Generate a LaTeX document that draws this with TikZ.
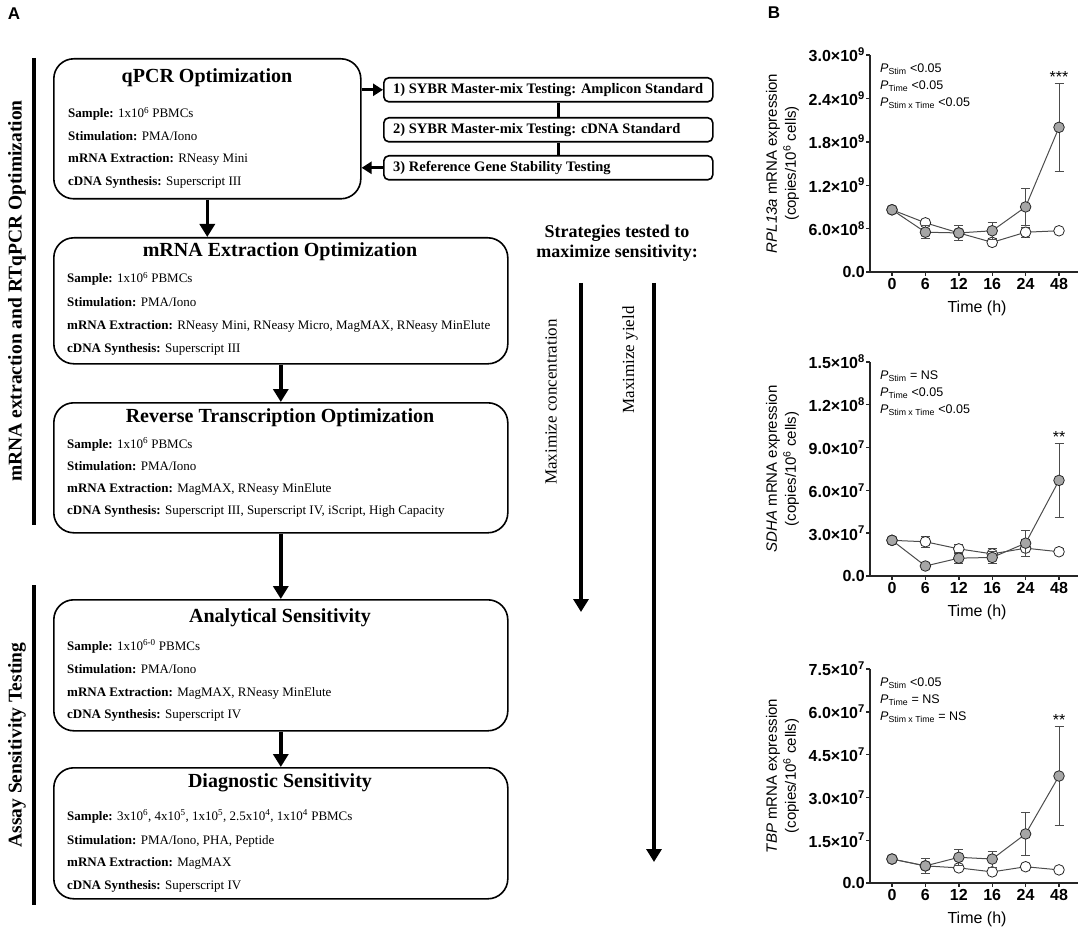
\documentclass[tikz,border=0pt]{standalone}
\usepackage{fontspec}
\setmainfont{Liberation Serif}
\setsansfont{Liberation Sans}
\usetikzlibrary{arrows.meta,positioning}

\tikzset{
  panel/.style={font=\sffamily\bfseries\fontsize{17}{20}\selectfont, inner sep=0pt},
  bigbox/.style={draw, line width=1.6pt, rounded corners=20pt, anchor=north west, inner sep=0pt, minimum width=454pt},
  smallbox/.style={draw, line width=1.6pt, rounded corners=5pt, anchor=north west, inner sep=0pt, minimum width=329pt, minimum height=24pt},
  boxtitle/.style={font=\bfseries\fontsize{20}{24}\selectfont, inner sep=0pt},
  boxline/.style={anchor=west, inner sep=0pt, font=\fontsize{13}{15}\selectfont, text height=9pt, text depth=3pt},
  steptext/.style={anchor=west, inner sep=0pt, font=\bfseries\fontsize{14.5}{17}\selectfont},
  sidelabel/.style={rotate=90, inner sep=0pt, font=\bfseries\fontsize{19.5}{24}\selectfont},
  strat/.style={align=center, inner sep=0pt, font=\bfseries\fontsize{18}{20}\selectfont},
  maxlabel/.style={rotate=90, inner sep=0pt, font=\fontsize{17}{20}\selectfont},
  flow/.style={line width=3.5pt, -{Triangle[width=15pt,length=13pt]}},
  sideflow/.style={line width=3pt, -{Triangle[width=12pt,length=10pt]}},
  steplink/.style={line width=3pt},
  groupbar/.style={line width=3.5pt},
  % plot looks
  axisline/.style={line width=1.4pt, black!85},
  ytick/.style={anchor=east, inner sep=0pt, font=\sffamily\bfseries\fontsize{16}{18}\selectfont},
  xtick/.style={inner sep=0pt, font=\sffamily\bfseries\fontsize{16}{18}\selectfont},
  axlabel/.style={inner sep=0pt, font=\sffamily\fontsize{16}{18}\selectfont},
  ylab/.style={rotate=90, align=center, inner sep=0pt, font=\sffamily\fontsize{15}{19}\selectfont},
  pval/.style={anchor=west, inner sep=0pt, font=\sffamily\fontsize{12.5}{14}\selectfont},
  stars/.style={inner sep=0pt, font=\sffamily\fontsize{16}{18}\selectfont},
  dataline/.style={line width=1pt, black!70},
  errbar/.style={line width=1pt, black!70},
  stimdot/.style={draw=black!85, line width=0.8pt, fill=black!35},
  restdot/.style={draw=black!85, line width=0.8pt, fill=white}
}

\begin{document}
\begin{tikzpicture}[x=1pt, y=-1pt]
  \useasboundingbox (0,0) rectangle (1084,933);

  % panel letters
  \node[panel] (label-a) at (14,14) {A};
  \node[panel] (label-b) at (774,13) {B};

  % group bars on the left
  \draw[groupbar] (34,58) -- (34,525);
  \draw[groupbar] (34,585) -- (34,905);
  \node[sidelabel] (opt-label) at (17,291) {mRNA extraction and RTqPCR Optimization};
  \node[sidelabel] (assay-label) at (17,745) {Assay Sensitivity Testing};

  % qPCR box
  \node[bigbox, minimum width=307pt, minimum height=140pt] (qpcr) at (53,58) {};
  \node[boxtitle] (qpcr-title) at (207,78) {qPCR Optimization};
  \node[boxline] (qpcr-l1) at (68,115) {\textbf{Sample:} 1x10\textsuperscript{6} PBMCs};
  \node[boxline] (qpcr-l2) at (68,138) {\textbf{Stimulation:} PMA/Iono};
  \node[boxline] (qpcr-l3) at (68,160) {\textbf{mRNA Extraction:} RNeasy Mini};
  \node[boxline] (qpcr-l4) at (68,183) {\textbf{cDNA Synthesis:} Superscript III};

  % qPCR testing steps
  \node[smallbox] (s1) at (383,77) {};
  \node[smallbox] (s2) at (383,117) {};
  \node[smallbox] (s3) at (383,155) {};
  \node[steptext, right=10pt of s1.west] (s1-text) {1) SYBR Master-mix Testing: Amplicon Standard};
  \node[steptext, right=10pt of s2.west] (s2-text) {2) SYBR Master-mix Testing: cDNA Standard};
  \node[steptext, right=10pt of s3.west] (s3-text) {3) Reference Gene Stability Testing};
  \draw[steplink] ([xshift=10pt]s1.south) -- ([xshift=10pt]s2.north);
  \draw[steplink] ([xshift=10pt]s2.south) -- ([xshift=10pt]s3.north);
  \draw[sideflow] (qpcr.east |- s1.west) -- (s1.west);
  \draw[sideflow] (s3.west) -- (qpcr.east |- s3.west);

  % mRNA extraction box
  \node[bigbox, minimum height=126pt] (mrna) at (53,237) {};
  \node[boxtitle] (mrna-title) at (280,252) {mRNA Extraction Optimization};
  \node[boxline] (mrna-l1) at (67,280) {\textbf{Sample:} 1x10\textsuperscript{6} PBMCs};
  \node[boxline] (mrna-l2) at (67,303) {\textbf{Stimulation:} PMA/Iono};
  \node[boxline] (mrna-l3) at (67,326) {\textbf{mRNA Extraction:} RNeasy Mini, RNeasy Micro, MagMAX, RNeasy MinElute};
  \node[boxline] (mrna-l4) at (67,349) {\textbf{cDNA Synthesis:} Superscript III};

  % reverse transcription box
  \node[bigbox, minimum height=130pt] (rt) at (53,402) {};
  \node[boxtitle] (rt-title) at (280,418) {Reverse Transcription Optimization};
  \node[boxline] (rt-l1) at (67,445) {\textbf{Sample:} 1x10\textsuperscript{6} PBMCs};
  \node[boxline] (rt-l2) at (67,467) {\textbf{Stimulation:} PMA/Iono};
  \node[boxline] (rt-l3) at (67,489) {\textbf{mRNA Extraction:} MagMAX, RNeasy MinElute};
  \node[boxline] (rt-l4) at (67,511) {\textbf{cDNA Synthesis:} Superscript III, Superscript IV, iScript, High Capacity};

  % analytical sensitivity box
  \node[bigbox, minimum height=131pt] (anal) at (53,599) {};
  \node[boxtitle] (anal-title) at (280,618) {Analytical Sensitivity};
  \node[boxline] (anal-l1) at (67,647) {\textbf{Sample:} 1x10\textsuperscript{6-0} PBMCs};
  \node[boxline] (anal-l2) at (67,670) {\textbf{Stimulation:} PMA/Iono};
  \node[boxline] (anal-l3) at (67,693) {\textbf{mRNA Extraction:} MagMAX, RNeasy MinElute};
  \node[boxline] (anal-l4) at (67,715) {\textbf{cDNA Synthesis:} Superscript IV};

  % diagnostic sensitivity box
  \node[bigbox, minimum height=131pt] (diag) at (53,767) {};
  \node[boxtitle] (diag-title) at (280,783) {Diagnostic Sensitivity};
  \node[boxline] (diag-l1) at (67,817) {\textbf{Sample:} 3x10\textsuperscript{6}, 4x10\textsuperscript{5}, 1x10\textsuperscript{5}, 2.5x10\textsuperscript{4}, 1x10\textsuperscript{4} PBMCs};
  \node[boxline] (diag-l2) at (67,841) {\textbf{Stimulation:} PMA/Iono, PHA, Peptide};
  \node[boxline] (diag-l3) at (67,863) {\textbf{mRNA Extraction:} MagMAX};
  \node[boxline] (diag-l4) at (67,886) {\textbf{cDNA Synthesis:} Superscript IV};

  % flow between boxes
  \draw[flow] (qpcr.south) -- (qpcr.south |- mrna.north);
  \draw[flow] (mrna) -- (rt);
  \draw[flow] (rt) -- (anal);
  \draw[flow] (anal) -- (diag);

  % strategies
  \node[strat] (strat) at (617,243) {Strategies tested to\\maximize sensitivity:};
  \coordinate (conc-start) at (581,283);
  \coordinate (conc-end) at (581,612);
  \coordinate (yield-start) at (654,283);
  \coordinate (yield-end) at (654,862);
  \draw[flow] (conc-start) -- (conc-end);
  \draw[flow] (yield-start) -- (yield-end);
  \node[maxlabel] (conc-label) at (551,402) {Maximize concentration};
  \node[maxlabel] (yield-label) at (630,360) {Maximize yield};

  % RPL13a plot
  \begin{scope}[shift={(870,272)}, y=7.233pt]
    \draw[axisline] (0,30) -- (0,0) -- (208,0);
    \foreach \v/\lab [count=\k] in {0/{0.0}, 6/{6.0×10\textsuperscript{8}}, 12/{1.2×10\textsuperscript{9}}, 18/{1.8×10\textsuperscript{9}}, 24/{2.4×10\textsuperscript{9}}, 30/{3.0×10\textsuperscript{9}}} {
      \draw[axisline] (0,\v) -- (-4,\v);
      \node[ytick] (rpl-y\k) at (-5,\v) {\lab};
    }
    \foreach \x/\t [count=\k] in {22/0, 55.4/6, 88.8/12, 122.2/16, 155.6/24, 189/48} {
      \draw[axisline] (\x,0) -- ++(0,-4pt);
      \node[xtick, below=6pt] (rpl-x\k) at (\x,0) {\t};
    }
    \node[axlabel, below=29pt] (rpl-time) at (107,0) {Time (h)};
    \node[ylab] (rpl-ylab) at (-87.5,15) {\textit{RPL13a} mRNA expression\\(copies/10\textsuperscript{6} cells)};
    \node[pval, yshift=-14pt] (rpl-p1) at (10,30) {\textit{P}\textsubscript{Stim} <0.05};
    \node[pval, yshift=-31pt] (rpl-p2) at (10,30) {\textit{P}\textsubscript{Time} <0.05};
    \node[pval, yshift=-48pt] (rpl-p3) at (10,30) {\textit{P}\textsubscript{Stim x Time} <0.05};
    \node[stars, above=1pt] (rpl-star) at (189,26.1) {***};
    % unstimulated
    \foreach \x/\v/\e in {22/8.6/0.2, 55.4/6.8/0.3, 88.8/5.4/0.4, 122.2/4.1/0.5, 155.6/5.5/0.7, 189/5.7/0.2}
      \draw[errbar] (\x,\v-\e) -- (\x,\v+\e) (\x-4.5,\v+\e) -- (\x+4.5,\v+\e) (\x-4.5,\v-\e) -- (\x+4.5,\v-\e);
    \draw[dataline] plot coordinates {(22,8.6) (55.4,6.8) (88.8,5.4) (122.2,4.1) (155.6,5.5) (189,5.7)};
    \foreach \x/\v in {22/8.6, 55.4/6.8, 88.8/5.4, 122.2/4.1, 155.6/5.5, 189/5.7}
      \draw[restdot] (\x,\v) circle (5.3pt);
    % stimulated
    \foreach \x/\v/\e in {22/8.6/0.2, 55.4/5.5/0.9, 88.8/5.4/1.0, 122.2/5.7/1.2, 155.6/9.0/2.6, 189/20.0/6.1}
      \draw[errbar] (\x,\v-\e) -- (\x,\v+\e) (\x-4.5,\v+\e) -- (\x+4.5,\v+\e) (\x-4.5,\v-\e) -- (\x+4.5,\v-\e);
    \draw[dataline] plot coordinates {(22,8.6) (55.4,5.5) (88.8,5.4) (122.2,5.7) (155.6,9.0) (189,20.0)};
    \foreach \x/\v in {22/8.6, 55.4/5.5, 88.8/5.4, 122.2/5.7, 155.6/9.0, 189/20.0}
      \draw[stimdot] (\x,\v) circle (5.3pt);
  \end{scope}

  % SDHA plot
  \begin{scope}[shift={(870,576)}, y=14.27pt]
    \draw[axisline] (0,15) -- (0,0) -- (208,0);
    \foreach \v/\lab [count=\k] in {0/{0.0}, 3/{3.0×10\textsuperscript{7}}, 6/{6.0×10\textsuperscript{7}}, 9/{9.0×10\textsuperscript{7}}, 12/{1.2×10\textsuperscript{8}}, 15/{1.5×10\textsuperscript{8}}} {
      \draw[axisline] (0,\v) -- (-4,\v);
      \node[ytick] (sdha-y\k) at (-5,\v) {\lab};
    }
    \foreach \x/\t [count=\k] in {22/0, 55.4/6, 88.8/12, 122.2/16, 155.6/24, 189/48} {
      \draw[axisline] (\x,0) -- ++(0,-4pt);
      \node[xtick, below=6pt] (sdha-x\k) at (\x,0) {\t};
    }
    \node[axlabel, below=29pt] (sdha-time) at (107,0) {Time (h)};
    \node[ylab] (sdha-ylab) at (-87.5,7.5) {\textit{SDHA} mRNA expression\\(copies/10\textsuperscript{6} cells)};
    \node[pval, yshift=-14pt] (sdha-p1) at (10,15) {\textit{P}\textsubscript{Stim} = NS};
    \node[pval, yshift=-31pt] (sdha-p2) at (10,15) {\textit{P}\textsubscript{Time} <0.05};
    \node[pval, yshift=-48pt] (sdha-p3) at (10,15) {\textit{P}\textsubscript{Stim x Time} <0.05};
    \node[stars, above=1pt] (sdha-star) at (189,9.3) {**};
    % unstimulated
    \foreach \x/\v/\e in {22/2.5/0.2, 55.4/2.4/0.4, 88.8/1.9/0.3, 122.2/1.55/0.4, 155.6/1.95/0.6, 189/1.7/0.2}
      \draw[errbar] (\x,\v-\e) -- (\x,\v+\e) (\x-4.5,\v+\e) -- (\x+4.5,\v+\e) (\x-4.5,\v-\e) -- (\x+4.5,\v-\e);
    \draw[dataline] plot coordinates {(22,2.5) (55.4,2.4) (88.8,1.9) (122.2,1.55) (155.6,1.95) (189,1.7)};
    \foreach \x/\v in {22/2.5, 55.4/2.4, 88.8/1.9, 122.2/1.55, 155.6/1.95, 189/1.7}
      \draw[restdot] (\x,\v) circle (5.3pt);
    % stimulated
    \foreach \x/\v/\e in {22/2.5/0.2, 55.4/0.7/0.2, 88.8/1.25/0.4, 122.2/1.3/0.4, 155.6/2.3/0.9, 189/6.7/2.6}
      \draw[errbar] (\x,\v-\e) -- (\x,\v+\e) (\x-4.5,\v+\e) -- (\x+4.5,\v+\e) (\x-4.5,\v-\e) -- (\x+4.5,\v-\e);
    \draw[dataline] plot coordinates {(22,2.5) (55.4,0.7) (88.8,1.25) (122.2,1.3) (155.6,2.3) (189,6.7)};
    \foreach \x/\v in {22/2.5, 55.4/0.7, 88.8/1.25, 122.2/1.3, 155.6/2.3, 189/6.7}
      \draw[stimdot] (\x,\v) circle (5.3pt);
  \end{scope}

  % TBP plot
  \begin{scope}[shift={(870,883)}, y=28.53pt]
    \draw[axisline] (0,7.5) -- (0,0) -- (208,0);
    \foreach \v/\lab [count=\k] in {0/{0.0}, 1.5/{1.5×10\textsuperscript{7}}, 3/{3.0×10\textsuperscript{7}}, 4.5/{4.5×10\textsuperscript{7}}, 6/{6.0×10\textsuperscript{7}}, 7.5/{7.5×10\textsuperscript{7}}} {
      \draw[axisline] (0,\v) -- (-4,\v);
      \node[ytick] (tbp-y\k) at (-5,\v) {\lab};
    }
    \foreach \x/\t [count=\k] in {22/0, 55.4/6, 88.8/12, 122.2/16, 155.6/24, 189/48} {
      \draw[axisline] (\x,0) -- ++(0,-4pt);
      \node[xtick, below=6pt] (tbp-x\k) at (\x,0) {\t};
    }
    \node[axlabel, below=29pt] (tbp-time) at (107,0) {Time (h)};
    \node[ylab] (tbp-ylab) at (-87.5,3.75) {\textit{TBP} mRNA expression\\(copies/10\textsuperscript{6} cells)};
    \node[pval, yshift=-14pt] (tbp-p1) at (10,7.5) {\textit{P}\textsubscript{Stim} <0.05};
    \node[pval, yshift=-31pt] (tbp-p2) at (10,7.5) {\textit{P}\textsubscript{Time} = NS};
    \node[pval, yshift=-48pt] (tbp-p3) at (10,7.5) {\textit{P}\textsubscript{Stim x Time} = NS};
    \node[stars, above=1pt] (tbp-star) at (189,5.47) {**};
    % unstimulated
    \foreach \x/\v/\e in {22/0.84/0.1, 55.4/0.6/0.1, 88.8/0.53/0.1, 122.2/0.39/0.1, 155.6/0.57/0.1, 189/0.46/0.1}
      \draw[errbar] (\x,\v-\e) -- (\x,\v+\e) (\x-4.5,\v+\e) -- (\x+4.5,\v+\e) (\x-4.5,\v-\e) -- (\x+4.5,\v-\e);
    \draw[dataline] plot coordinates {(22,0.84) (55.4,0.6) (88.8,0.53) (122.2,0.39) (155.6,0.57) (189,0.46)};
    \foreach \x/\v in {22/0.84, 55.4/0.6, 88.8/0.53, 122.2/0.39, 155.6/0.57, 189/0.46}
      \draw[restdot] (\x,\v) circle (5.3pt);
    % stimulated
    \foreach \x/\v/\e in {22/0.84/0.1, 55.4/0.6/0.27, 88.8/0.9/0.29, 122.2/0.84/0.28, 155.6/1.72/0.76, 189/3.75/1.72}
      \draw[errbar] (\x,\v-\e) -- (\x,\v+\e) (\x-4.5,\v+\e) -- (\x+4.5,\v+\e) (\x-4.5,\v-\e) -- (\x+4.5,\v-\e);
    \draw[dataline] plot coordinates {(22,0.84) (55.4,0.6) (88.8,0.9) (122.2,0.84) (155.6,1.72) (189,3.75)};
    \foreach \x/\v in {22/0.84, 55.4/0.6, 88.8/0.9, 122.2/0.84, 155.6/1.72, 189/3.75}
      \draw[stimdot] (\x,\v) circle (5.3pt);
  \end{scope}
\end{tikzpicture}
\end{document}
